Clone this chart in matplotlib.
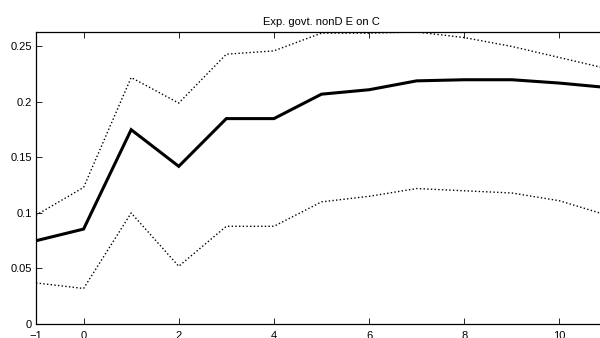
import matplotlib
matplotlib.use("Agg")
import matplotlib.pyplot as plt

# impulse response horizon and bands
horizon = [-1, 0, 1, 2, 3, 4, 5, 6, 7, 8, 9, 10, 11]
mean_resp = [0.075, 0.0855, 0.175, 0.142, 0.185, 0.185, 0.207, 0.211, 0.219, 0.220, 0.220, 0.217, 0.213]
upper_band = [0.098, 0.123, 0.222, 0.199, 0.243, 0.246, 0.262, 0.262, 0.263, 0.258, 0.250, 0.240, 0.230]
lower_band = [0.037, 0.032, 0.100, 0.052, 0.088, 0.088, 0.110, 0.115, 0.122, 0.120, 0.118, 0.111, 0.098]

xticks = [-1, 0, 2, 4, 6, 8, 10]
xtick_labels = ["\u22121", "0", "2", "4", "6", "8", "10"]
yticks = [0, 0.05, 0.1, 0.15, 0.2, 0.25]
ytick_labels = ["0", "0.05", "0.1", "0.15", "0.2", "0.25"]

plt.rcParams["font.family"] = ["Liberation Sans", "DejaVu Sans"]

fig = plt.figure(figsize=(6.0, 3.38), dpi=100)
# axes extends a little past the right edge, as in the cropped original
ax = fig.add_axes([36 / 600, 14 / 338, 571 / 600, 292 / 338])

ax.plot(horizon, upper_band, color="black", linestyle=":", linewidth=1.0)
ax.plot(horizon, lower_band, color="black", linestyle=":", linewidth=1.0)
ax.plot(horizon, mean_resp, color="black", linewidth=2.2, solid_joinstyle="miter")

ax.set_xlim(-1, 11)
ax.set_ylim(0, 0.263)
ax.set_xticks(xticks)
ax.set_xticklabels(xtick_labels)
ax.set_yticks(yticks)
ax.set_yticklabels(ytick_labels)
ax.tick_params(direction="in", length=4, width=0.6, labelsize=8, top=True, right=True)
ax.tick_params(axis="x", pad=5)
ax.tick_params(axis="y", pad=3)
for spine in ax.spines.values():
    spine.set_linewidth(0.9)

ax.set_title("Exp. govt. nonD E on C", fontsize=8, pad=5)

fig.savefig("out.png", dpi=100)
